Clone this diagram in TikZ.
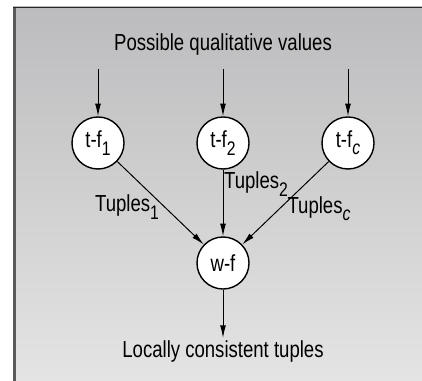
\documentclass[tikz,border=0pt]{standalone}
\usepackage{fontspec}
\setmainfont{Liberation Sans}[FakeStretch=0.8]
\usepackage{tikz}
\usetikzlibrary{arrows.meta, positioning}

\definecolor{panelTop}{HTML}{BCBCBE}
\definecolor{panelBottom}{HTML}{E4E4E4}
\definecolor{panelEdge}{HTML}{5A5A5A}

% lowered, slightly smaller index as used in the node texts
\newcommand{\lowsub}[1]{\raisebox{-0.6ex}{\fontsize{14}{16}\selectfont #1}}

\tikzset{
    fnode/.style={draw, circle, fill=white, line width=1pt, minimum size=1.3cm,
        inner sep=0pt, font=\fontsize{16.5}{19}\selectfont},
    caption/.style={font=\fontsize{16.5}{19}\selectfont},
    flow/.style={->, line width=0.7pt},
}

\begin{document}
\begin{tikzpicture}[>={Latex[length=9pt,width=4.2pt]}, x=0.025cm, y=-0.025cm]
        \useasboundingbox (0,0) rectangle (422,381);
        % shaded panel with its dark edges
        \fill[top color=panelTop, bottom color=panelBottom] (13,7) rectangle (422,381);
        \draw[panelEdge, line width=2pt] (14.5,7) -- (14.5,381);
        \draw[black!85, line width=0.7pt] (13,7.5) -- (422,7.5);

        \node[caption] (values) at (223,45) {Possible qualitative values};
        \coordinate (in1) at (98,69);
        \coordinate (in2) at (223,69);
        \coordinate (inc) at (348,69);

        \node[fnode] (tf1) at (98,143) {t-f\lowsub{1}};
        \node[fnode] (tf2) at (223,143) {t-f\lowsub{2}};
        \node[fnode] (tfc) at (348,143) {t-f\lowsub{\itshape c}};
        \node[fnode] (wf) at (223,263) {w-f};

        \node[caption] (tup1) at (127,207) {Tuples\lowsub{1}};
        \node[caption] (tup2) at (256,184) {Tuples\lowsub{2}};
        \node[caption] (tupc) at (319,209) {Tuples\lowsub{\itshape c}};

        \node[caption] (result) at (223,352) {Locally consistent tuples};
        \coordinate (out) at (223,338);

        \draw[flow] (in1) -- (tf1);
        \draw[flow] (in2) -- (tf2);
        \draw[flow] (inc) -- (tfc);
        \draw[flow] (tf1) -- (wf);
        \draw[flow] (tf2) -- (wf);
        \draw[flow] (tfc) -- (wf);
        \draw[flow] (wf) -- (out);
      \end{tikzpicture}
\end{document}
